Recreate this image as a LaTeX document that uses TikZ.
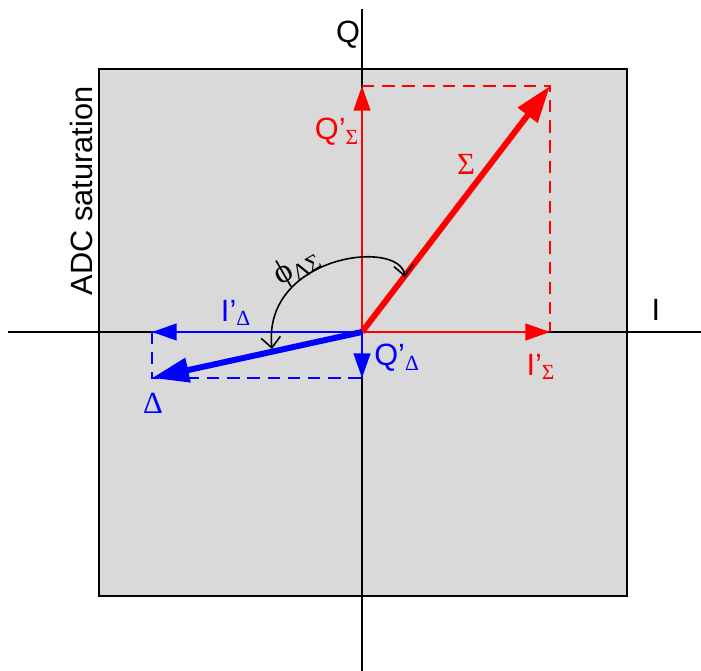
\documentclass[tikz,border=0pt]{standalone}
\usepackage{fontspec}
\setmainfont{Liberation Sans}
\newfontfamily\grk{Liberation Serif}
\usetikzlibrary{arrows.meta}
\definecolor{satgray}{HTML}{D9D9D9}
\definecolor{sumred}{HTML}{FF0000}
\definecolor{difblue}{HTML}{0000FF}

\begin{document}
\begin{tikzpicture}[x=0.02cm, y=-0.02cm,
  axis/.style={line width=1.1pt, black},
  comp/.style={line width=1.2pt, -{Triangle[length=14pt, width=9.5pt]}},
  vec/.style={line width=3.4pt, -{Triangle[length=21pt, width=13.5pt]}},
  proj/.style={line width=1.1pt, dash pattern=on 7pt off 4.5pt},
  lbl/.style={font=\fontsize{17.5}{20}\selectfont, inner sep=1pt},
  glbl/.style={font=\fontsize{17.5}{20}\selectfont\grk, inner sep=1pt}
]
  \useasboundingbox (0,0) rectangle (701,671);

  % saturation box
  \draw[fill=satgray, line width=0.9pt] (99,69) rectangle (627,596);

  % axes
  \coordinate (O) at (362,332);
  \coordinate (xl) at (8,332);
  \coordinate (xr) at (701,332);
  \coordinate (yt) at (362,9);
  \coordinate (yb) at (362,671);
  \draw[axis] (xl) -- (xr);
  \draw[axis] (yt) -- (yb);
  \node[lbl] (qax) at (348,35) {Q};
  \node[lbl] (iax) at (656,310) {I};
  \node[lbl, rotate=90] (adc) at (82,191) {ADC saturation};

  % sum vector and its parts
  \coordinate (sig) at (550,86);
  \coordinate (qsig) at (362,86);
  \coordinate (isig) at (550,332);
  \draw[proj, sumred] (qsig) -- (sig) -- (isig);
  \draw[comp, sumred] (O) -- (qsig);
  \draw[comp, sumred] (O) -- (isig);
  \draw[vec, sumred] (O) -- (sig);

  % difference vector and its parts
  \coordinate (del) at (152,378);
  \coordinate (idel) at (152,332);
  \coordinate (qdel) at (362,378);
  \draw[proj, difblue] (idel) -- (del) -- (qdel);
  \draw[comp, difblue] (O) -- (idel);
  \draw[comp, difblue] (O) -- (qdel);
  \draw[vec, difblue] (O) -- (del);

  % angle between them
  \coordinate (phia) at (405,277);
  \coordinate (phib) at (272,349);
  \draw[line width=0.9pt, {Straight Barb[length=6pt, width=11pt]}-{Straight Barb[length=6pt, width=11pt]}]
    (phib) .. controls (262,255) and (400,238) .. (phia);
  \node[glbl, rotate=30, font=\fontsize{19}{20}\selectfont\grk] (phi) at (297,267) {ϕ\textsubscript{ΔΣ}};

  % labels
  \node[lbl, text=sumred] (qsiglbl) at (337,132) {Q’\textsubscript{\grk Σ}};
  \node[glbl, text=sumred] (siglbl) at (466,164) {Σ};
  \node[lbl, text=sumred] (isiglbl) at (541,367) {I’\textsubscript{\grk Σ}};
  \node[lbl, text=difblue] (idellbl) at (236,313) {I’\textsubscript{\grk Δ}};
  \node[lbl, text=difblue] (qdellbl) at (397,358) {Q’\textsubscript{\grk Δ}};
  \node[glbl, text=difblue] (dellbl) at (153,403) {Δ};
\end{tikzpicture}
\end{document}
